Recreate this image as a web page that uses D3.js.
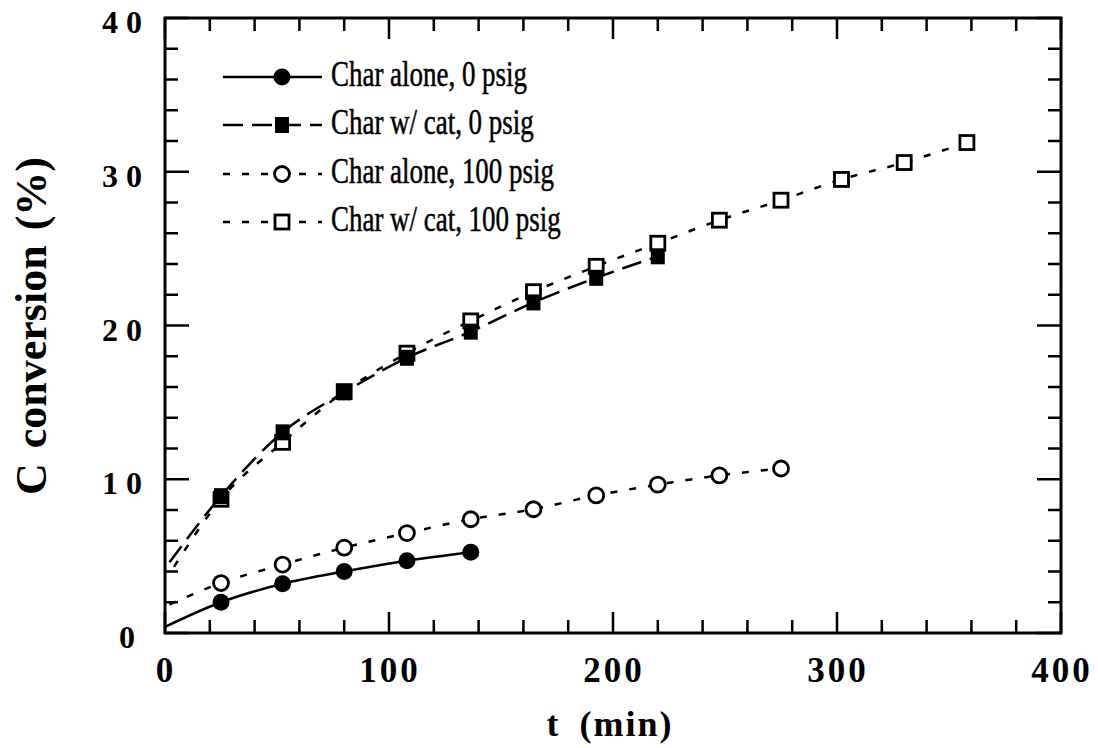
<!DOCTYPE html>
<html>
<head>
<meta charset="UTF-8">
<title>C conversion vs time</title>
<script src="https://d3js.org/d3.v7.min.js"></script>
<style>
  body { margin: 0; background: #fff; }
  svg { display: block; }
  .xtick { font-family: "Liberation Serif", serif; font-weight: bold; font-size: 35px; fill: #000; }
  .ytick { font-family: "Liberation Serif", serif; font-weight: bold; font-size: 32px; fill: #000; }
  .legend-text { font-family: "Liberation Serif", serif; font-size: 35px; fill: #000; stroke: #000; stroke-width: 0.5px; }
  .axis-title { font-family: "Liberation Serif", serif; font-weight: bold; fill: #000; }
</style>
</head>
<body>
<div id="chart"></div>
<script>
// sample times (min)
const times = [25, 52.5, 80, 108, 136.5, 164.5, 192.5, 220, 247.5, 275, 302, 330, 358];

// C conversion (%)
const charAlone0 = [2.0, 3.2, 4.0, 4.7, 5.25];
const charCat0 = [8.9, 13.05, 15.65, 17.9, 19.6, 21.5, 23.1, 24.5];
const charAlone100 = [3.25, 4.45, 5.55, 6.5, 7.4, 8.05, 8.95, 9.65, 10.25, 10.7];
const charCat100 = [8.7, 12.4, 15.7, 18.2, 20.3, 22.2, 23.85, 25.35, 26.85, 28.15, 29.5, 30.6, 31.9];

// where each fitted curve begins near t = 0  [t, value]
const curveStarts = [[0, 0.4], [2, 4.6], [2, 1.85], [4, 4.3]];

const legendLabels = ["Char alone, 0 psig", "Char w/ cat, 0 psig", "Char alone, 100 psig", "Char w/ cat, 100 psig"];
const xTickLabels = [0, 100, 200, 300, 400];
const yTickLabels = [0, 10, 20, 30, 40];

const width = 1098, height = 748;
const x = d3.scaleLinear().domain([0, 400]).range([165, 1061]);
const y = d3.scaleLinear().domain([0, 40]).range([633, 18]);

const svg = d3.select("#chart").append("svg")
  .attr("width", width).attr("height", height);

const series = [
  { vals: charAlone0, dash: null, marker: "fcircle" },
  { vals: charCat0, dash: "20,9", marker: "fsquare" },
  { vals: charAlone100, dash: "7,12", marker: "ocircle" },
  { vals: charCat100, dash: "7,12", marker: "osquare" }
];
series.forEach((s, i) => {
  s.pts = s.vals.map((v, j) => [times[j], v]);
  s.start = curveStarts[i];
});

// ticks, all pointing inward
const ax = svg.append("g").attr("stroke", "#000").attr("stroke-width", 2.5);
d3.range(0, 401, 20).forEach(t => {
  const len = t % 100 === 0 ? 21 : 13;
  ax.append("line").attr("x1", x(t)).attr("x2", x(t)).attr("y1", y(0)).attr("y2", y(0) - len);
  ax.append("line").attr("x1", x(t)).attr("x2", x(t)).attr("y1", y(40)).attr("y2", y(40) + len);
});
d3.range(0, 41, 2).forEach(v => {
  const len = v % 10 === 0 ? 24 : 13;
  ax.append("line").attr("y1", y(v)).attr("y2", y(v)).attr("x1", x(0)).attr("x2", x(0) + len);
  ax.append("line").attr("y1", y(v)).attr("y2", y(v)).attr("x1", x(400)).attr("x2", x(400) - len);
});
svg.append("rect")
  .attr("x", x(0)).attr("y", y(40))
  .attr("width", x(400) - x(0)).attr("height", y(0) - y(40))
  .attr("fill", "none").attr("stroke", "#000").attr("stroke-width", 3);

// tick labels
svg.append("g").selectAll("text").data(xTickLabels).join("text")
  .attr("class", "xtick")
  .attr("x", d => x(d) + 1).attr("y", 682)
  .attr("text-anchor", "middle")
  .attr("letter-spacing", "3px")
  .text(d => d);
svg.append("g").selectAll("text").data(yTickLabels).join("text")
  .attr("class", "ytick")
  .attr("x", d => d === 0 ? 135 : 142).attr("y", d => y(d) + 15)
  .attr("text-anchor", "end")
  .text(d => String(d).split("").join(" "));

// axis titles
svg.append("text").attr("class", "axis-title")
  .attr("font-size", "36px")
  .attr("x", 610).attr("y", 736).attr("text-anchor", "middle")
  .attr("letter-spacing", "2px").attr("word-spacing", "8px")
  .text("t (min)");
svg.append("text").attr("class", "axis-title")
  .attr("font-size", "44px")
  .attr("transform", "translate(46,326) rotate(-90)")
  .attr("text-anchor", "middle")
  .attr("word-spacing", "4px")
  .text("C conversion (%)");

// curves
const line = d3.line().x(d => x(d[0])).y(d => y(d[1])).curve(d3.curveMonotoneX);
series.forEach(s => {
  svg.append("path")
    .attr("d", line([s.start].concat(s.pts)))
    .attr("fill", "none").attr("stroke", "#000").attr("stroke-width", 2.5)
    .attr("stroke-dasharray", s.dash);
});

function drawMarker(g, type, cx, cy) {
  if (type === "fcircle") {
    g.append("circle").attr("cx", cx).attr("cy", cy).attr("r", 8.5).attr("fill", "#000");
  } else if (type === "ocircle") {
    g.append("circle").attr("cx", cx).attr("cy", cy).attr("r", 7.5)
      .attr("fill", "#fff").attr("stroke", "#000").attr("stroke-width", 2.8);
  } else if (type === "fsquare") {
    g.append("rect").attr("x", cx - 7).attr("y", cy - 8).attr("width", 14).attr("height", 16)
      .attr("fill", "#000");
  } else {
    g.append("rect").attr("x", cx - 7).attr("y", cy - 7).attr("width", 14).attr("height", 14)
      .attr("fill", "#fff").attr("stroke", "#000").attr("stroke-width", 2.8);
  }
}

// markers (draw order: open squares, filled squares, open circles, filled circles)
const mk = svg.append("g");
[3, 1, 2, 0].forEach(i => {
  series[i].pts.forEach(p => drawMarker(mk, series[i].marker, x(p[0]), y(p[1])));
});

// legend
const lg = svg.append("g");
const rowsY = [77, 125, 174, 222];
series.forEach((s, i) => {
  lg.append("line")
    .attr("x1", 223).attr("x2", 322).attr("y1", rowsY[i]).attr("y2", rowsY[i])
    .attr("stroke", "#000").attr("stroke-width", 2.5)
    .attr("stroke-dasharray", s.dash);
  drawMarker(lg, s.marker, 282, rowsY[i]);
  lg.append("text").attr("class", "legend-text")
    .attr("transform", `translate(331,${rowsY[i] + 9}) scale(0.77,1)`)
    .text(legendLabels[i]);
});
</script>
</body>
</html>
